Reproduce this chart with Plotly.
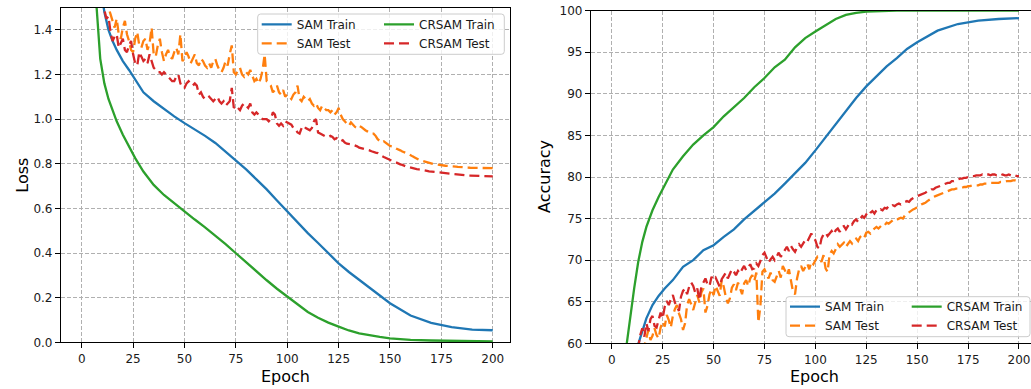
import plotly.graph_objects as go

# ---- data -------------------------------------------------------------
# training curves (sampled epochs)
E_TR = [1, 3, 5, 7, 9, 11, 13, 15, 17, 20, 23, 26,
        30, 35, 40, 45, 50, 55, 60, 65, 70, 75, 80, 85, 90, 95, 100,
        105, 110, 115, 120, 125, 130, 135, 140, 145, 150,
        160, 170, 180, 190, 200]

loss_sam_train = [2.90, 2.50, 2.10, 1.80, 1.60, 1.48, 1.40, 1.35, 1.31, 1.26, 1.22, 1.175,
                  1.12, 1.08, 1.045, 1.012, 0.982, 0.955, 0.925, 0.893, 0.855, 0.815, 0.775, 0.73,
                  0.685, 0.635, 0.586, 0.535, 0.489, 0.445, 0.40, 0.354, 0.315, 0.28, 0.245,
                  0.21, 0.175, 0.12, 0.087, 0.068, 0.057, 0.054]
loss_crsam_train = [2.60, 2.10, 1.75, 1.53, 1.27, 1.16, 1.09, 1.04, 0.99, 0.93, 0.875, 0.825,
                    0.765, 0.705, 0.66, 0.622, 0.586, 0.55, 0.515, 0.478, 0.44, 0.399, 0.358,
                    0.318, 0.278, 0.24, 0.204, 0.168, 0.136, 0.11, 0.088, 0.07, 0.053, 0.04,
                    0.031, 0.024, 0.018, 0.011, 0.008, 0.006, 0.005, 0.004]
acc_sam_train = [25.0, 35.0, 42.0, 48.0, 53.0, 57.0, 59.9, 61.6, 63.0, 64.6, 65.7, 66.6,
                 67.6, 69.2, 70.0, 71.2, 71.8, 72.8, 73.7, 74.9, 75.9, 76.9, 78.0, 79.2,
                 80.4, 81.7, 83.2, 84.8, 86.3, 87.9, 89.5, 90.9, 92.1, 93.3, 94.3, 95.4,
                 96.2, 97.6, 98.4, 98.8, 99.0, 99.1]
acc_crsam_train = [30.0, 42.0, 51.0, 59.3, 63.2, 66.6, 69.8, 72.2, 74.0, 76.0, 77.6, 79.1,
                   80.9, 82.5, 83.9, 85.0, 86.0, 87.3, 88.4, 89.5, 90.8, 91.9, 93.2, 94.1,
                   95.6, 96.7, 97.5, 98.3, 99.0, 99.5, 99.75, 99.9, 99.96, 99.99, 100.0, 100.0,
                   100.0, 100.0, 100.0, 100.0, 100.0, 100.0]

# test curves (every epoch)
E_TE = list(range(1, 201))

loss_sam_test = [
    2.55, 2.40, 2.26, 2.14, 2.03, 1.94, 1.86, 1.78, 1.71, 1.65,
    1.60, 1.54, 1.50, 1.47, 1.44, 1.41, 1.45, 1.38, 1.36, 1.41,
    1.44, 1.38, 1.35, 1.31, 1.30, 1.36, 1.39, 1.33, 1.32, 1.35,
    1.36, 1.31, 1.34, 1.41, 1.29, 1.28, 1.33, 1.36, 1.30, 1.26,
    1.29, 1.31, 1.28, 1.27, 1.30, 1.32, 1.29, 1.38, 1.26, 1.27,
    1.30, 1.28, 1.25, 1.27, 1.29, 1.25, 1.24, 1.27, 1.26, 1.24,
    1.23, 1.25, 1.23, 1.26, 1.27, 1.24, 1.22, 1.21, 1.23, 1.26,
    1.24, 1.29, 1.33, 1.21, 1.20, 1.22, 1.23, 1.20, 1.19, 1.21,
    1.20, 1.22, 1.19, 1.17, 1.18, 1.16, 1.18, 1.22, 1.29, 1.17,
    1.16, 1.15, 1.12, 1.13, 1.15, 1.12, 1.11, 1.13, 1.10, 1.11,
    1.10, 1.09, 1.11, 1.12, 1.15, 1.09, 1.08, 1.10, 1.09, 1.08,
    1.09, 1.07, 1.06, 1.07, 1.05, 1.04, 1.06, 1.05, 1.04, 1.04,
    1.03, 1.04, 1.02, 1.03, 1.05, 1.02, 1.00, 0.99, 0.98, 0.97,
    0.985, 0.975, 0.965, 0.96, 0.97, 0.965, 0.955, 0.95, 0.945, 0.94,
    0.935, 0.935, 0.925, 0.91, 0.90, 0.895, 0.90, 0.893, 0.885, 0.88,
    0.878, 0.875, 0.868, 0.865, 0.86, 0.855, 0.85, 0.848, 0.844, 0.84,
    0.833, 0.828, 0.822, 0.818, 0.815, 0.812, 0.809, 0.806, 0.803, 0.80,
    0.799, 0.798, 0.796, 0.795, 0.793, 0.792, 0.791, 0.79, 0.79, 0.789,
    0.788, 0.787, 0.786, 0.786, 0.785, 0.784, 0.783, 0.783, 0.782, 0.782,
    0.781, 0.781, 0.78, 0.78, 0.78, 0.78, 0.779, 0.779, 0.78, 0.78]
loss_crsam_test = [
    2.35, 2.20, 2.07, 1.96, 1.86, 1.78, 1.70, 1.64, 1.58, 1.53,
    1.49, 1.45, 1.46, 1.39, 1.35, 1.37, 1.38, 1.32, 1.34, 1.36,
    1.31, 1.30, 1.33, 1.35, 1.29, 1.25, 1.24, 1.30, 1.28, 1.26,
    1.27, 1.25, 1.29, 1.26, 1.23, 1.22, 1.21, 1.21, 1.20, 1.21,
    1.20, 1.19, 1.18, 1.17, 1.17, 1.19, 1.20, 1.16, 1.14, 1.14,
    1.16, 1.17, 1.16, 1.15, 1.16, 1.15, 1.11, 1.12, 1.10, 1.09,
    1.09, 1.10, 1.09, 1.08, 1.09, 1.10, 1.08, 1.07, 1.08, 1.06,
    1.07, 1.08, 1.14, 1.05, 1.06, 1.05, 1.04, 1.06, 1.07, 1.06,
    1.05, 1.07, 1.03, 1.02, 1.03, 1.02, 1.01, 1.00, 1.00, 1.00,
    0.99, 1.00, 1.03, 1.02, 0.98, 0.97, 0.98, 0.97, 0.99, 0.985,
    0.98, 0.975, 0.96, 0.955, 0.94, 0.935, 0.96, 0.97, 0.96, 0.955,
    0.95, 0.96, 0.99, 1.00, 0.94, 0.935, 0.93, 0.925, 0.92, 0.92,
    0.925, 0.92, 0.91, 0.915, 0.905, 0.90, 0.905, 0.895, 0.89, 0.89,
    0.887, 0.885, 0.882, 0.878, 0.872, 0.87, 0.867, 0.864, 0.862, 0.86,
    0.856, 0.852, 0.85, 0.848, 0.84, 0.835, 0.83, 0.825, 0.82, 0.817,
    0.813, 0.81, 0.805, 0.80, 0.797, 0.795, 0.79, 0.787, 0.785, 0.782,
    0.78, 0.778, 0.776, 0.775, 0.774, 0.772, 0.77, 0.768, 0.766, 0.765,
    0.762, 0.76, 0.759, 0.758, 0.757, 0.756, 0.755, 0.754, 0.753, 0.752,
    0.751, 0.75, 0.75, 0.749, 0.749, 0.748, 0.748, 0.747, 0.747, 0.746,
    0.746, 0.745, 0.745, 0.745, 0.745, 0.744, 0.744, 0.744, 0.744, 0.743]
acc_sam_test = [
    14.0, 19.0, 24.0, 29.0, 33.0, 37.0, 41.0, 44.0, 47.0, 50.0,
    52.0, 54.0, 56.0, 57.5, 58.8, 59.8, 60.5, 61.6, 60.4, 60.9,
    61.8, 61.0, 60.6, 61.9, 62.6, 62.0, 63.4, 62.8, 61.9, 63.3,
    64.1, 64.6, 63.6, 62.9, 61.6, 62.4, 64.6, 65.3, 64.7, 64.0,
    64.9, 65.8, 64.9, 66.1, 66.6, 63.7, 64.5, 65.9, 66.5, 65.8,
    66.9, 66.2, 65.7, 67.6, 66.8, 65.6, 64.8, 65.4, 66.7, 67.1,
    66.4, 67.3, 66.6, 65.9, 67.2, 67.6, 66.9, 67.8, 68.2, 67.5,
    68.5, 62.5, 64.5, 68.6, 68.9, 68.3, 67.8, 68.5, 67.6, 67.4,
    68.2, 68.7, 67.9, 69.3, 68.8, 68.2, 68.9, 67.7, 66.2, 65.9,
    67.8, 68.9, 69.3, 68.7, 69.2, 69.6, 68.9, 69.8, 69.5, 69.9,
    70.4, 70.2, 69.8, 70.6, 69.0, 68.6, 70.7, 71.1, 70.8, 71.3,
    71.9, 71.6, 71.8, 72.1, 71.6, 71.9, 72.3, 72.0, 72.4, 72.6,
    72.3, 72.8, 73.0, 72.7, 73.3, 73.4, 73.2, 73.6, 73.8, 74.0,
    73.8, 74.1, 74.3, 74.2, 74.5, 74.4, 74.6, 74.8, 74.7, 74.9,
    75.0, 75.1, 75.0, 75.4, 75.6, 75.8, 75.9, 76.1, 76.2, 76.4,
    76.5, 76.7, 76.8, 76.9, 77.1, 77.3, 77.4, 77.6, 77.7, 77.8,
    77.9, 78.0, 78.1, 78.2, 78.3, 78.4, 78.5, 78.5, 78.6, 78.6,
    78.7, 78.7, 78.8, 78.8, 78.9, 78.9, 79.0, 79.0, 79.0, 79.0,
    79.1, 79.1, 79.2, 79.2, 79.2, 79.3, 79.3, 79.3, 79.3, 79.3,
    79.4, 79.4, 79.4, 79.5, 79.5, 79.5, 79.6, 79.6, 79.5, 79.6]
acc_crsam_test = [
    16.0, 21.0, 26.0, 31.0, 36.0, 40.0, 44.0, 47.5, 50.5, 53.0,
    55.5, 57.5, 59.5, 61.0, 61.8, 60.8, 62.4, 61.5, 62.9, 63.3,
    62.1, 61.9, 62.8, 63.7, 63.0, 64.4, 65.1, 64.6, 65.3, 65.8,
    64.9, 64.3, 63.9, 65.6, 66.3, 66.6, 65.9, 66.8, 67.3, 66.9,
    66.1, 66.6, 65.2, 66.8, 67.4, 67.8, 67.1, 66.9, 68.0, 67.6,
    67.9, 67.3, 66.8, 67.7, 68.2, 68.5, 67.8, 68.3, 68.9, 68.6,
    68.2, 68.7, 68.4, 68.9, 69.3, 68.8, 69.2, 69.5, 68.9, 69.0,
    69.6, 69.3, 69.9, 70.6, 70.9, 70.2, 69.7, 70.1, 70.4, 70.0,
    70.5, 70.9, 70.4, 70.8, 71.3, 71.6, 71.1, 71.7, 71.3, 71.0,
    71.5, 71.9, 71.6, 72.1, 72.4, 72.2, 72.8, 73.2, 72.7, 72.4,
    71.6, 71.4, 72.6, 73.1, 73.3, 72.9, 73.2, 73.5, 73.1, 73.6,
    73.8, 73.4, 74.0, 74.1, 73.7, 74.2, 74.5, 74.3, 74.7, 74.9,
    74.6, 75.0, 75.3, 75.1, 75.5, 75.3, 75.7, 75.9, 75.6, 76.0,
    75.9, 76.1, 76.0, 76.3, 76.2, 76.5, 76.4, 76.6, 76.5, 76.7,
    76.8, 76.7, 76.9, 77.0, 77.1, 77.0, 77.3, 77.5, 77.6, 77.7,
    77.8, 77.9, 78.0, 78.1, 78.3, 78.3, 78.5, 78.5, 78.7, 78.8,
    78.9, 79.0, 79.1, 79.2, 79.3, 79.3, 79.5, 79.5, 79.6, 79.7,
    79.8, 79.8, 79.9, 79.9, 80.0, 80.0, 80.1, 80.1, 80.2, 80.2,
    80.2, 80.3, 80.2, 80.3, 80.3, 80.2, 80.3, 80.3, 80.2, 80.3,
    80.2, 80.3, 80.2, 80.2, 80.3, 80.2, 80.1, 80.2, 80.1, 80.1]

# ---- styling ----------------------------------------------------------
W, H = 1031, 389
BLUE, ORANGE, GREEN, RED = "#1f77b4", "#ff7f0e", "#2ca02c", "#d62728"
FONT = "DejaVu Sans"
LW = 2.3
DASH = "10px,5px"


def px(x):
    return x / W


def py(y):
    return 1 - y / H


fig = go.Figure()

# loss panel
fig.add_trace(go.Scatter(x=E_TR, y=loss_sam_train, name="SAM Train", mode="lines",
                         line=dict(color=BLUE, width=LW), xaxis="x", yaxis="y", legend="legend"))
fig.add_trace(go.Scatter(x=E_TE, y=loss_sam_test, name="SAM Test", mode="lines",
                         line=dict(color=ORANGE, width=LW, dash=DASH), xaxis="x", yaxis="y", legend="legend"))
fig.add_trace(go.Scatter(x=E_TR, y=loss_crsam_train, name="CRSAM Train", mode="lines",
                         line=dict(color=GREEN, width=LW), xaxis="x", yaxis="y", legend="legend2"))
fig.add_trace(go.Scatter(x=E_TE, y=loss_crsam_test, name="CRSAM Test", mode="lines",
                         line=dict(color=RED, width=LW, dash=DASH), xaxis="x", yaxis="y", legend="legend2"))

# accuracy panel
fig.add_trace(go.Scatter(x=E_TR, y=acc_sam_train, name="SAM Train", mode="lines",
                         line=dict(color=BLUE, width=LW), xaxis="x2", yaxis="y2", legend="legend3"))
fig.add_trace(go.Scatter(x=E_TE, y=acc_sam_test, name="SAM Test", mode="lines",
                         line=dict(color=ORANGE, width=LW, dash=DASH), xaxis="x2", yaxis="y2", legend="legend3"))
fig.add_trace(go.Scatter(x=E_TR, y=acc_crsam_train, name="CRSAM Train", mode="lines",
                         line=dict(color=GREEN, width=LW), xaxis="x2", yaxis="y2", legend="legend4"))
fig.add_trace(go.Scatter(x=E_TE, y=acc_crsam_test, name="CRSAM Test", mode="lines",
                         line=dict(color=RED, width=LW, dash=DASH), xaxis="x2", yaxis="y2", legend="legend4"))

axis_common = dict(
    showline=True, linecolor="black", linewidth=1.2,
    ticks="outside", ticklen=5, tickwidth=1.2, tickcolor="black",
    tickfont=dict(family=FONT, size=12, color="#1a1a1a"),
    showgrid=True, gridcolor="#b0b0b0", gridwidth=1, griddash="4px,2px",
    zeroline=False, automargin=False,
)

legend_common = dict(
    bgcolor="rgba(0,0,0,0)", borderwidth=0, orientation="v",
    font=dict(family=FONT, size=12, color="#1a1a1a"),
    xanchor="left", yanchor="top", traceorder="normal",
)


def box_path(x0, y0, x1, y1, r=3):
    """Rounded rectangle in paper coordinates, given pixel corners."""
    pts = [
        f"M{px(x0 + r)},{py(y0)}",
        f"L{px(x1 - r)},{py(y0)}",
        f"Q{px(x1)},{py(y0)} {px(x1)},{py(y0 + r)}",
        f"L{px(x1)},{py(y1 - r)}",
        f"Q{px(x1)},{py(y1)} {px(x1 - r)},{py(y1)}",
        f"L{px(x0 + r)},{py(y1)}",
        f"Q{px(x0)},{py(y1)} {px(x0)},{py(y1 - r)}",
        f"L{px(x0)},{py(y0 + r)}",
        f"Q{px(x0)},{py(y0)} {px(x0 + r)},{py(y0)}",
        "Z",
    ]
    return " ".join(pts)


fig.update_layout(
    width=W, height=H,
    margin=dict(l=0, r=0, t=0, b=0, pad=0, autoexpand=False),
    paper_bgcolor="white", plot_bgcolor="white",
    font=dict(family=FONT, color="#1a1a1a"),
    xaxis=dict(axis_common, domain=[px(61), px(510)], range=[-10.1, 208.4],
               tick0=0, dtick=25, mirror=True, anchor="y"),
    yaxis=dict(axis_common, domain=[py(342.3), py(7.5)], range=[0, 1.5],
               tick0=0, dtick=0.2, tickformat=".1f", mirror=True, anchor="x"),
    xaxis2=dict(axis_common, domain=[px(591), 1.0], range=[-10.2, 205.9],
                tick0=0, dtick=25, mirror=True, anchor="y2"),
    yaxis2=dict(axis_common, domain=[py(343.3), py(10.7)], range=[60, 100],
                tick0=60, dtick=5, anchor="x2"),
    legend=dict(legend_common, x=px(256.7), y=py(9.8)),
    legend2=dict(legend_common, x=px(379), y=py(9.8)),
    legend3=dict(legend_common, x=px(785), y=py(292.2)),
    legend4=dict(legend_common, x=px(906.7), y=py(292.2)),
    shapes=[
        dict(type="path", xref="paper", yref="paper", layer="above",
             path=box_path(257.7, 14, 504.3, 54.3),
             fillcolor="rgba(255,255,255,0.8)", line=dict(color="#cccccc", width=1)),
        dict(type="path", xref="paper", yref="paper", layer="above",
             path=box_path(786, 296.7, 1030, 336.7),
             fillcolor="rgba(255,255,255,0.8)", line=dict(color="#cccccc", width=1)),
    ],
    annotations=[
        dict(text="Loss", x=px(21.7), y=py(175), xref="paper", yref="paper",
             textangle=-90, showarrow=False, font=dict(family=FONT, size=16, color="black"),
             xanchor="center", yanchor="middle"),
        dict(text="Epoch", x=px(285.5), y=py(376), xref="paper", yref="paper",
             showarrow=False, font=dict(family=FONT, size=16, color="black"),
             xanchor="center", yanchor="middle"),
        dict(text="Accuracy", x=px(545), y=py(177), xref="paper", yref="paper",
             textangle=-90, showarrow=False, font=dict(family=FONT, size=16, color="black"),
             xanchor="center", yanchor="middle"),
        dict(text="Epoch", x=px(814), y=py(376), xref="paper", yref="paper",
             showarrow=False, font=dict(family=FONT, size=16, color="black"),
             xanchor="center", yanchor="middle"),
    ],
)

fig.write_html("out.html")
